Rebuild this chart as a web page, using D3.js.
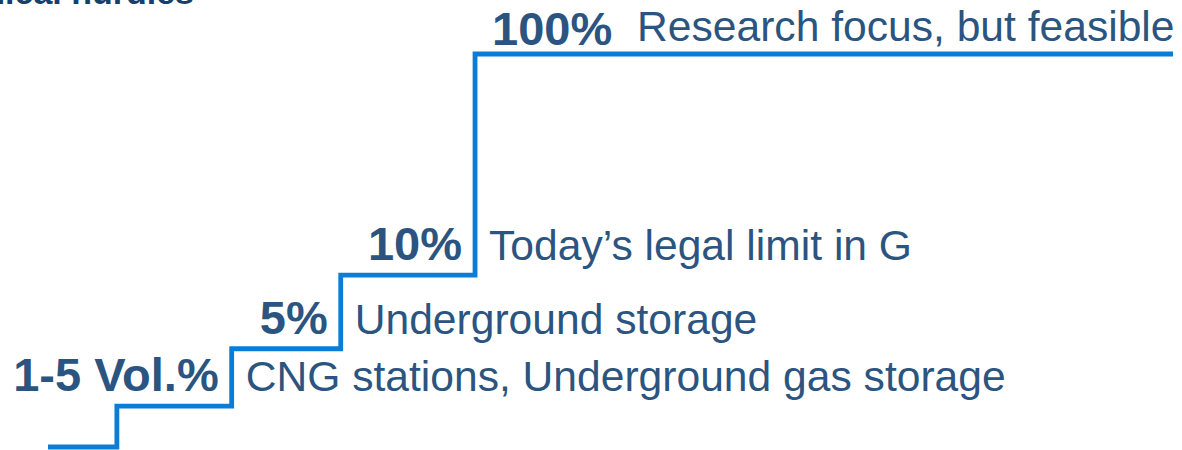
<!DOCTYPE html>
<html>
<head>
<meta charset="utf-8">
<script src="https://cdn.jsdelivr.net/npm/d3@7"></script>
<style>
  body { margin: 0; background: #fff; }
  svg { display: block; font-family: "Liberation Sans", Arial, sans-serif; }
</style>
</head>
<body>
<script>
// stair positions along the line (arbitrary units) and rise of each step
var stepX = [0, 6, 16, 25.5, 37.2, 98];
var stepLevel = [0, 1, 2.4, 4.2, 9.6];

var shares = ["1-5 Vol.%", "5%", "10%", "100%"];
var uses = ["CNG stations, Underground gas storage", "Underground storage",
            "Today\u2019s legal limit in G", "Research focus, but feasible"];

var width = 1182, height = 450;

var svg = d3.select("body").append("svg")
    .attr("width", width).attr("height", height);

var x = d3.scaleLinear().domain([0, 98]).range([48, 1173]);
var y = d3.scaleLinear().domain([0, 9.6]).range([447, 54]);

// title, mostly cut off at the top
svg.append("text")
    .attr("x", 194).attr("y", 4)
    .attr("text-anchor", "end")
    .attr("font-weight", "bold")
    .attr("font-size", 34)
    .attr("fill", "#163f6c")
    .text("Technical hurdles");

var pts = stepX.map(function(d, i) {
    return [d, stepLevel[Math.min(i, stepLevel.length - 1)]];
});

var line = d3.line()
    .x(d => x(d[0]))
    .y(d => y(d[1]))
    .curve(d3.curveStepAfter);

svg.append("path")
    .datum(pts)
    .attr("d", line)
    .attr("fill", "none")
    .attr("stroke", "#0b7dd6")
    .attr("stroke-width", 4.8);

var labels = svg.append("g").selectAll("g")
    .data(shares)
    .enter().append("g");

var last = shares.length - 1;

labels.append("text")
    .attr("x", function(d, i) {
        return i < last ? x(stepX[i + 2]) - 13 : x(stepX[i + 1]) + 17;
    })
    .attr("y", (d, i) => y(stepLevel[i + 1]) - (i < last ? 15 : 9))
    .attr("text-anchor", (d, i) => i < last ? "end" : "start")
    .attr("font-weight", "bold")
    .attr("font-size", 47)
    .attr("fill", "#2b5580")
    .text(d => d);

labels.append("text")
    .attr("x", function(d, i) {
        return i < last ? x(stepX[i + 2]) + 14 : x(stepX[i + 1]) + 162;
    })
    .attr("y", (d, i) => y(stepLevel[i + 1]) - (i < last ? 15 : 13))
    .attr("font-size", 42.6)
    .attr("fill", "#2b5580")
    .text((d, i) => uses[i]);
</script>
</body>
</html>
